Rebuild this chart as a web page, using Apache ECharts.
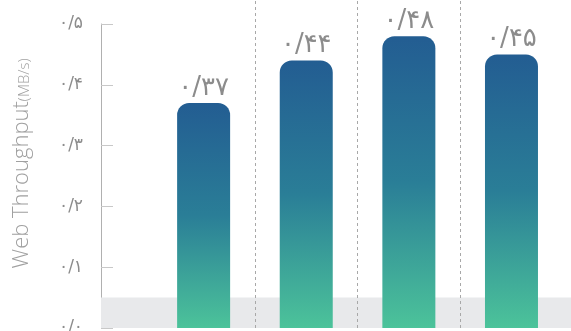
<!DOCTYPE html>
<html><head><meta charset="utf-8">
<script src="https://cdn.jsdelivr.net/npm/echarts@6/dist/echarts.min.js"></script>
<style>html,body{margin:0;padding:0;background:#fff}#c{width:571px;height:331px}</style>
</head><body><div id="c"></div>
<script>
const categories = ['A', 'B', 'C', 'D'];
const throughput = [0.37, 0.44, 0.48, 0.45];
const yMin = 0, yMax = 0.5, yStep = 0.1;
const bandTop = 0.05;
const xSpan = 4.58;

const faDigits = '۰۱۲۳۴۵۶۷۸۹';
function toFa(v, d) {
  return v.toFixed(d).replace(/\d/g, c => faDigits[+c]).replace('.', '/');
}
const xs = categories.map((c, i) => i + 1);
const dividers = categories.slice(1).map((c, i) => i + 1.5);

const chart = echarts.init(document.getElementById('c'), null, {renderer: 'canvas'});
const grad = new echarts.graphic.LinearGradient(0, 0, 0, 1, [
  {offset: 0, color: '#235d92'},
  {offset: 0.5, color: '#2a7e97'},
  {offset: 1, color: '#4cc39a'}
]);
chart.setOption({
  animation: false,
  grid: [
    {left: 101, right: 0, top: 24, bottom: 3, outerBoundsMode: 'none', containLabel: false},
    {left: 101, right: 0, top: 0, bottom: 3, outerBoundsMode: 'none', containLabel: false}
  ],
  xAxis: [
    {type: 'value', gridIndex: 0, min: 0, max: xSpan, show: false},
    {type: 'value', gridIndex: 1, min: 0, max: xSpan, show: false}
  ],
  yAxis: [
    {
      type: 'value', gridIndex: 0, min: yMin, max: yMax, interval: yStep,
      name: '{a|Web Throughput}{b|(MB/s)}', nameLocation: 'middle', nameGap: 68,
      nameTextStyle: {padding: [0, 0, 0, 25], rich: {
        a: {fontFamily: 'Open Sans', fontWeight: 300, fontSize: 22, color: '#a0a0a0'},
        b: {fontFamily: 'Open Sans', fontWeight: 300, fontSize: 15, color: '#a0a0a0', verticalAlign: 'bottom', padding: [0, 0, 1, 0]}
      }},
      axisLine: {show: true, lineStyle: {color: '#b0b0b0', width: 1}},
      axisTick: {show: true, inside: true, length: 12, lineStyle: {color: '#c8c8c8'}},
      splitLine: {show: false},
      axisLabel: {margin: 18, fontFamily: 'DejaVu Sans', fontSize: 17, color: '#8c8c8c',
        formatter: v => toFa(v, 1)}
    },
    {type: 'value', gridIndex: 1, min: 0, max: 1, show: false}
  ],
  series: [
    {
      type: 'bar', xAxisIndex: 0, yAxisIndex: 0,
      data: xs.map((x, i) => [x, throughput[i]]),
      barWidth: 53,
      itemStyle: {color: grad, borderRadius: [12, 12, 0, 0]},
      label: {show: true, position: 'top', distance: 2, fontFamily: 'DejaVu Sans', fontSize: 26,
        color: '#8c8c8c', formatter: p => toFa(p.value[1], 2)},
      markArea: {silent: true, itemStyle: {color: '#e8e9eb'},
        data: [[{yAxis: yMin, xAxis: 0}, {yAxis: bandTop, xAxis: xSpan}]]},
      z: 3
    },
    {
      type: 'line', xAxisIndex: 1, yAxisIndex: 1, data: [],
      markLine: {silent: true, symbol: 'none', label: {show: false},
        lineStyle: {color: '#a8a8a8', type: [3, 3], width: 1},
        data: dividers.map(d => ({xAxis: d}))},
      z: 2
    }
  ]
});
</script></body></html>
